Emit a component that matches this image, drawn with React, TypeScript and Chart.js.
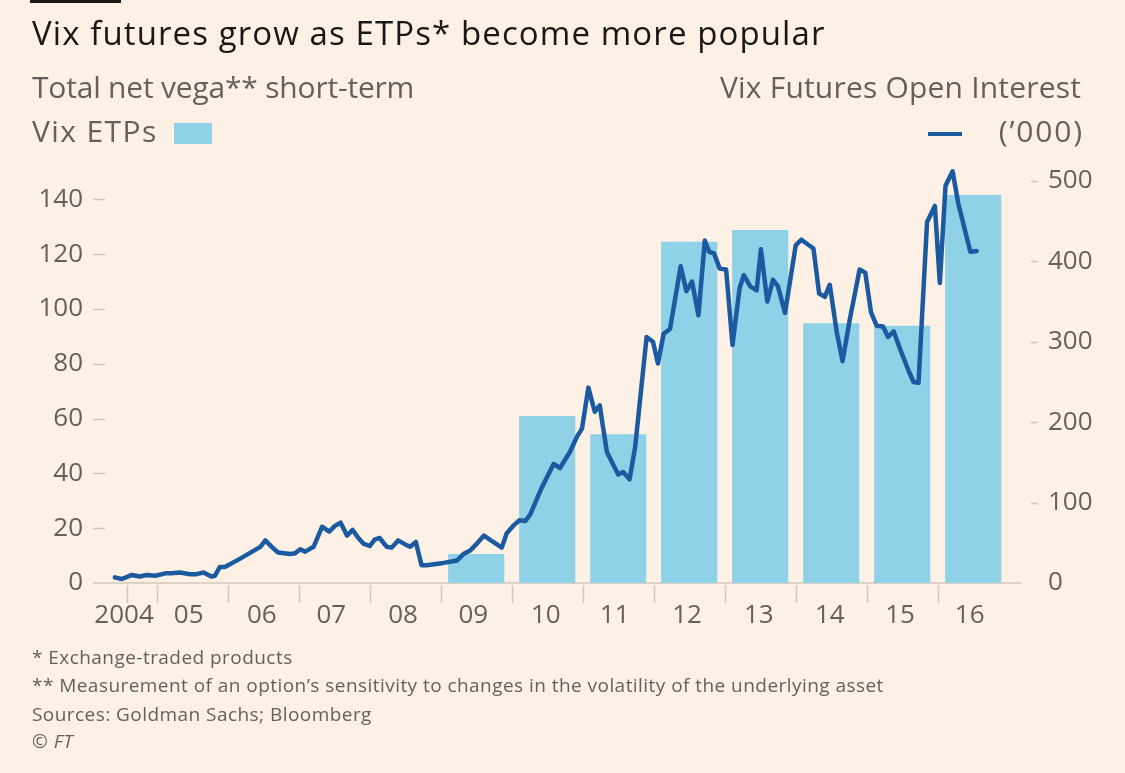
import React, { useEffect, useRef } from 'react';
import { Chart, registerables } from 'chart.js';

Chart.register(...registerables);

// ---- Data ----
const ETP_YEARS = [2009, 2010, 2011, 2012, 2013, 2014, 2015, 2016];
const ETP_VEGA = [10.6, 60.9, 54.3, 124.5, 128.8, 94.8, 93.9, 141.6];

const OI_DATES = [
  2004.41, 2004.51, 2004.65, 2004.76, 2004.86, 2004.98, 2005.12, 2005.21, 2005.33, 2005.47,
  2005.56, 2005.66, 2005.77, 2005.82, 2005.89, 2005.96, 2006.17, 2006.46, 2006.53, 2006.62,
  2006.71, 2006.88, 2006.95, 2007.02, 2007.09, 2007.21, 2007.33, 2007.43, 2007.51, 2007.59,
  2007.68, 2007.76, 2007.84, 2007.91, 2008.0, 2008.07, 2008.14, 2008.24, 2008.31, 2008.4,
  2008.5, 2008.57, 2008.65, 2008.73, 2008.8, 2009.04, 2009.23, 2009.32, 2009.41, 2009.51,
  2009.61, 2009.74, 2009.86, 2009.93, 2010.02, 2010.11, 2010.19, 2010.26, 2010.42, 2010.59,
  2010.68, 2010.82, 2010.92, 2010.99, 2011.08, 2011.17, 2011.24, 2011.34, 2011.5, 2011.57,
  2011.66, 2011.74, 2011.9, 2011.99, 2012.06, 2012.14, 2012.23, 2012.38, 2012.46, 2012.54,
  2012.63, 2012.72, 2012.78, 2012.85, 2012.93, 2013.02, 2013.11, 2013.21, 2013.27, 2013.36,
  2013.45, 2013.51, 2013.6, 2013.68, 2013.75, 2013.85, 2014.0, 2014.08, 2014.25, 2014.33,
  2014.41, 2014.48, 2014.58, 2014.66, 2014.76, 2014.9, 2014.98, 2015.06, 2015.14, 2015.23,
  2015.3, 2015.38, 2015.47, 2015.59, 2015.66, 2015.73, 2015.85, 2015.96, 2016.03, 2016.11,
  2016.21, 2016.29, 2016.46, 2016.55,
];
const OI_VALUES = [
  7, 5, 10, 8, 10, 9, 12, 12, 13, 11,
  11, 13, 8, 9, 20, 20, 30, 45, 53, 45,
  38, 36, 37, 42, 39, 45, 70, 64, 71, 75,
  59, 66, 56, 49, 46, 54, 56, 45, 44, 53,
  48, 45, 51, 22, 22, 25, 28, 36, 40, 49,
  59, 51, 44, 62, 71, 78, 77, 85, 118, 148,
  143, 163, 182, 192, 243, 213, 221, 163, 135, 138,
  129, 170, 306, 300, 273, 310, 316, 394, 363, 375,
  333, 426, 412, 410, 391, 390, 296, 367, 383, 369,
  364, 415, 350, 377, 369, 336, 420, 427, 416, 360,
  356, 371, 311, 276, 327, 390, 386, 337, 320, 319,
  306, 313, 291, 264, 250, 249, 449, 469, 373, 494,
  512, 472, 412, 413,
];

const LEFT_TICKS = [0, 20, 40, 60, 80, 100, 120, 140];
const RIGHT_TICKS = [0, 100, 200, 300, 400, 500];
const YEAR_BOUNDARIES = [2004.58, 2005, 2006, 2007, 2008, 2009, 2010, 2011, 2012, 2013, 2014, 2015, 2016];
const YEAR_LABELS = ['2004', '05', '06', '07', '08', '09', '10', '11', '12', '13', '14', '15', '16'];
const YEAR_LABEL_AT = [2004.54, 2005.45, 2006.48, 2007.46, 2008.47, 2009.46, 2010.48, 2011.45, 2012.47, 2013.48, 2014.48, 2015.47, 2016.45];

// ---- Styles ----
const W = 1125;
const H = 773;
const BG = '#fdf1e6';
const BAR = '#8fd1e6';
const LINE = '#1b5aa0';
const GREY = '#66605c';
const RULE = '#d3c7bc';
const FONT = '"Open Sans", sans-serif';

const X_MIN = 2004.2718;
const X_MAX = 2017.1873;
const YL_MAX = 152.15;
const YR_MAX = 518.66;

const ftAxes = {
  id: 'ftAxes',
  beforeDatasetsDraw(chart: any) {
    const ctx = chart.ctx;
    const { x, yL, yR } = chart.scales;
    const area = chart.chartArea;
    const y0 = yL.getPixelForValue(0);
    ctx.save();
    ctx.strokeStyle = RULE;
    ctx.lineWidth = 1.5;
    const seg = (x1: number, y1: number, x2: number, y2: number) => {
      ctx.beginPath();
      ctx.moveTo(x1, y1);
      ctx.lineTo(x2, y2);
      ctx.stroke();
    };
    seg(area.left - 12, y0, area.right, y0);
    LEFT_TICKS.slice(1).forEach((v) => {
      const p = Math.round(yL.getPixelForValue(v)) + 0.5;
      seg(area.left - 12, p, area.left, p);
    });
    RIGHT_TICKS.slice(1).forEach((v) => {
      const p = Math.round(yR.getPixelForValue(v)) + 0.5;
      seg(area.right + 9, p, area.right + 16, p);
    });
    YEAR_BOUNDARIES.forEach((v) => {
      const p = Math.round(x.getPixelForValue(v)) + 0.5;
      seg(p, y0 + 2, p, y0 + 20);
    });
    ctx.restore();
  },
};

function Txt(props: {
  x?: number;
  right?: number;
  base: number;
  size: number;
  color: string;
  spacing?: number;
  children: any;
}) {
  const { x, right, base, size, color, spacing = 0, children } = props;
  const style: any = {
    position: 'absolute',
    top: base - 0.888 * size,
    fontSize: size,
    lineHeight: size + 'px',
    letterSpacing: spacing + 'px',
    color,
    whiteSpace: 'nowrap',
    fontFamily: FONT,
  };
  if (right !== undefined) style.right = W - right - spacing;
  else style.left = x;
  return <div style={style}>{children}</div>;
}

export default function App() {
  const ref = useRef<HTMLCanvasElement>(null);

  useEffect(() => {
    if (!ref.current) return;
    const chart = new Chart(ref.current, {
      type: 'bar',
      data: {
        datasets: [
          {
            type: 'line',
            data: OI_DATES.map((d, i) => ({ x: d, y: OI_VALUES[i] })),
            yAxisID: 'yR',
            borderColor: LINE,
            borderWidth: 4.5,
            pointRadius: 0,
            tension: 0,
            borderJoinStyle: 'round',
            borderCapStyle: 'round',
            order: 0,
          } as any,
          {
            type: 'bar',
            data: ETP_YEARS.map((yr, i) => ({ x: yr + 0.5, y: ETP_VEGA[i] })),
            yAxisID: 'yL',
            backgroundColor: BAR,
            borderWidth: 0,
            barPercentage: 0.869,
            categoryPercentage: 1,
            order: 1,
          } as any,
        ],
      },
      options: {
        responsive: false,
        maintainAspectRatio: false,
        animation: false,
        events: [],
        layout: { padding: { top: 166, left: 0, right: 0, bottom: 0 } },
        plugins: { legend: { display: false }, tooltip: { enabled: false } },
        scales: {
          x: {
            type: 'linear',
            min: X_MIN,
            max: X_MAX,
            offset: false,
            grid: { display: false, drawTicks: false },
            border: { display: false },
            afterBuildTicks: (s: any) => {
              s.ticks = YEAR_LABEL_AT.map((v) => ({ value: v }));
            },
            afterFit: (s: any) => {
              s.height = 190;
            },
            ticks: {
              autoSkip: false,
              maxRotation: 0,
              minRotation: 0,
              padding: 17,
              color: GREY,
              font: { family: FONT, size: 26 },
              callback: (_v: any, i: number) => YEAR_LABELS[i],
            },
          },
          yL: {
            type: 'linear',
            position: 'left',
            min: 0,
            max: YL_MAX,
            grid: { display: false, drawTicks: false },
            border: { display: false },
            afterBuildTicks: (s: any) => {
              s.ticks = LEFT_TICKS.map((v) => ({ value: v }));
            },
            afterFit: (s: any) => {
              s.width = 105;
            },
            ticks: {
              padding: 22,
              color: GREY,
              font: { family: FONT, size: 26 },
              callback: (v: any) => String(v),
            },
          },
          yR: {
            type: 'linear',
            position: 'right',
            min: 0,
            max: YR_MAX,
            grid: { display: false, drawTicks: false },
            border: { display: false },
            afterBuildTicks: (s: any) => {
              s.ticks = RIGHT_TICKS.map((v) => ({ value: v }));
            },
            afterFit: (s: any) => {
              s.width = 103;
            },
            ticks: {
              padding: 26,
              color: GREY,
              font: { family: FONT, size: 26 },
              callback: (v: any) => String(v),
            },
          },
        },
      } as any,
      plugins: [ftAxes],
    });
    return () => chart.destroy();
  }, []);

  return (
    <div
      style={{
        position: 'absolute',
        left: 0,
        top: 0,
        width: W,
        height: H,
        background: BG,
        overflow: 'hidden',
        fontFamily: FONT,
      }}
    >
      <canvas ref={ref} width={W} height={H} style={{ position: 'absolute', left: 0, top: 0, width: W, height: H }} />
      <div style={{ position: 'absolute', left: 30, top: 0, width: 91, height: 3, background: '#1a1817' }} />
      <Txt x={32} base={45} size={33} spacing={1.1} color="#1a1817">Vix futures grow as ETPs* become more popular</Txt>
      <Txt x={32} base={99} size={30} spacing={-0.2} color={GREY}>Total net vega** short-term</Txt>
      <Txt x={32} base={143} size={30} spacing={1.4} color={GREY}>Vix ETPs</Txt>
      <div style={{ position: 'absolute', left: 174, top: 123, width: 38, height: 21, background: BAR }} />
      <Txt right={1081} base={99} size={30} spacing={0.2} color={GREY}>Vix Futures Open Interest</Txt>
      <div style={{ position: 'absolute', left: 928, top: 132, width: 34, height: 4, background: LINE }} />
      <Txt right={1082} base={143} size={30} spacing={1.8} color={GREY}>(’000)</Txt>
      <Txt x={32} base={665} size={19} spacing={0.45} color={GREY}>* Exchange-traded products</Txt>
      <Txt x={32} base={693} size={19} spacing={0.45} color={GREY}>** Measurement of an option’s sensitivity to changes in the volatility of the underlying asset</Txt>
      <Txt x={32} base={722} size={19} spacing={0.45} color={GREY}>Sources: Goldman Sachs; Bloomberg</Txt>
      <Txt x={32} base={749} size={19} spacing={0.45} color={GREY}>© <i>FT</i></Txt>
    </div>
  );
}
